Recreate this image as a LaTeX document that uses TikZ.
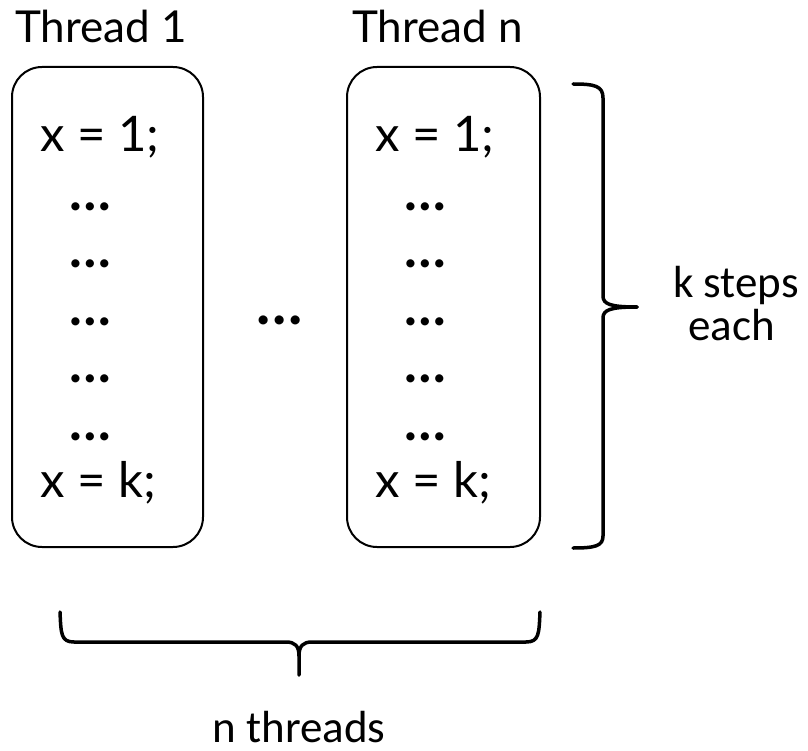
\documentclass[tikz,border=0pt]{standalone}
\usepackage{fontspec}
\setmainfont{Lato}
\newfontfamily\notefont{Carlito}
\begin{document}
\begin{tikzpicture}[x=1pt,y=-1pt,
  threadbox/.style={draw=black,line width=2pt,rounded corners=30pt},
  title/.style={anchor=base west,inner sep=0pt,font=\fontsize{44}{50}\selectfont},
  code/.style={anchor=base west,inner sep=0pt,font=\fontsize{49}{56}\selectfont},
  dots/.style={anchor=base,inner sep=0pt,font=\bfseries\fontsize{54}{56}\selectfont},
  gap/.style={anchor=base,inner sep=0pt,font=\bfseries\fontsize{60}{60}\selectfont},
  note/.style={anchor=base west,inner sep=0pt,font=\notefont\fontsize{45}{50}\selectfont},
  brace/.style={draw=black,line width=3.5pt,line cap=round,line join=round}]
\useasboundingbox (0,0) rectangle (808,751);

% thread boxes
\draw[threadbox] (12,67) rectangle (203,547);
\draw[threadbox] (347,67) rectangle (540,547);

% headings
\node[title] (h1) at (15,43) {Thread 1};
\node[title] (hn) at (352,43) {Thread n};

% first thread body
\node[code] (a1) at (40,152) {x = 1;};
\foreach \yy [count=\i] in {211,268,325,382,440}
  \node[dots] (ad\i) at (90,\yy) {…};
\node[code] (ak) at (40,497) {x = k;};

% last thread body
\node[code] (b1) at (375,152) {x = 1;};
\foreach \yy [count=\i] in {211,268,325,382,440}
  \node[dots] (bd\i) at (425,\yy) {…};
\node[code] (bk) at (375,497) {x = k;};

% gap between threads
\node[gap] (mid) at (280,324) {…};

% brace on the right: k steps
\coordinate (rtop) at (573,84);
\coordinate (rtip) at (637,307);
\coordinate (rbot) at (573,548);
\draw[brace] (rtop) .. controls (595,84) and (603,86) .. (603,98)
  -- (603,296) .. controls (603,304) and (610,307) .. (rtip);
\draw[brace] (rtip) .. controls (610,307) and (603,310) .. (603,318)
  -- (603,536) .. controls (603,546) and (595,548) .. (rbot);
\node[note] (ks) at (673,297) {k steps};
\node[note] (ke) at (688,340) {each};

% brace below: n threads
\coordinate (bl) at (60,612);
\coordinate (br) at (540,612);
\coordinate (btip) at (299,675);
\draw[brace] (bl) .. controls (61,634) and (61,642) .. (74,642)
  -- (286,642) .. controls (295,642) and (299,646) .. (299,656) -- (btip);
\draw[brace] (br) .. controls (539,634) and (539,642) .. (526,642)
  -- (312,642) .. controls (303,642) and (299,646) .. (299,656);
\node[note,anchor=base] (nt) at (299,742) {n threads};
\end{tikzpicture}
\end{document}
